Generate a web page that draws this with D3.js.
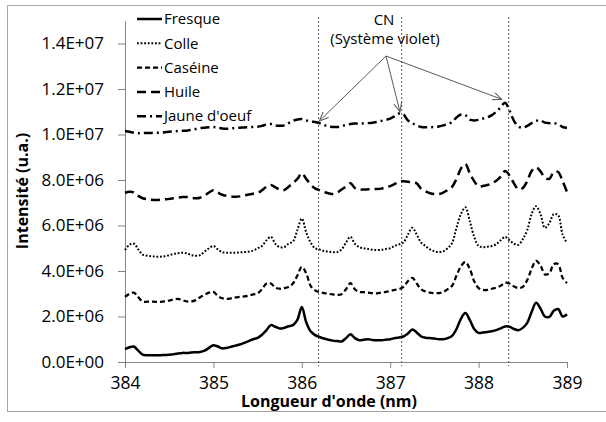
<!DOCTYPE html>
<html>
<head>
<meta charset="utf-8">
<script src="https://cdn.jsdelivr.net/npm/d3@7"></script>
<style>
  body { margin: 0; background: #fff; }
  text { font-family: "Open Sans", sans-serif; fill: #000; }
</style>
</head>
<body>
<div id="chart"></div>
<script>
// wavelength grid, nm (step 0.05)
const wavelengths = d3.range(101).map(i => +(384 + i * 0.05).toFixed(2));

// intensities, in 1e6 u.a.
const fresque = [0.57,0.65,0.68,0.5,0.32,0.3,0.3,0.3,0.3,0.31,
  0.32,0.34,0.37,0.4,0.4,0.42,0.43,0.44,0.5,0.62,
  0.74,0.68,0.6,0.62,0.67,0.72,0.77,0.84,0.92,1.0,
  1.06,1.2,1.4,1.62,1.55,1.47,1.5,1.57,1.62,1.85,
  2.42,1.75,1.35,1.18,1.1,1.03,0.98,0.94,0.92,0.9,
  1.05,1.22,1.05,0.96,0.98,1.0,0.97,0.96,0.96,0.98,
  1.0,1.05,1.08,1.12,1.25,1.43,1.3,1.12,1.07,1.05,
  1.03,1.0,1.0,1.05,1.15,1.45,1.9,2.15,1.85,1.45,
  1.28,1.3,1.32,1.35,1.4,1.48,1.56,1.55,1.45,1.4,
  1.5,1.72,2.2,2.6,2.35,2.0,1.98,2.25,2.33,2.0,
  2.1];
const colle = [4.92,5.15,5.2,4.95,4.72,4.67,4.65,4.63,4.63,4.65,
  4.7,4.75,4.78,4.8,4.78,4.7,4.67,4.7,4.85,5.0,
  5.1,4.95,4.83,4.8,4.8,4.8,4.82,4.83,4.85,4.9,
  5.0,5.1,5.35,5.5,5.2,5.05,5.05,5.2,5.3,5.8,
  6.3,5.7,5.25,5.0,4.95,4.88,4.85,4.83,4.83,4.95,
  5.25,5.5,5.2,5.05,5.0,4.97,4.93,4.92,4.93,4.97,
  5.0,5.1,5.17,5.25,5.6,5.9,5.6,5.25,5.1,4.95,
  4.87,4.83,4.87,5.0,5.23,5.9,6.5,6.8,6.2,5.5,
  5.1,5.05,5.07,5.1,5.18,5.35,5.5,5.35,5.2,5.15,
  5.4,5.8,6.5,6.85,6.5,5.9,6.1,6.5,6.45,5.6,
  5.23];
const caseine = [2.86,3.0,3.05,2.85,2.66,2.65,2.66,2.64,2.64,2.66,
  2.7,2.75,2.77,2.72,2.66,2.66,2.72,2.85,2.95,3.05,
  3.08,2.9,2.8,2.77,2.8,2.84,2.86,2.88,2.92,2.97,
  3.02,3.2,3.45,3.45,3.27,3.22,3.25,3.3,3.45,3.8,
  4.18,3.9,3.35,3.15,3.07,3.03,3.0,2.97,2.95,2.98,
  3.2,3.47,3.2,3.08,3.07,3.05,3.03,3.02,3.05,3.08,
  3.12,3.17,3.2,3.3,3.55,3.7,3.45,3.2,3.1,3.05,
  3.03,3.03,3.08,3.2,3.35,3.8,4.2,4.4,4.1,3.55,
  3.25,3.17,3.17,3.22,3.27,3.35,3.48,3.45,3.32,3.25,
  3.3,3.6,4.1,4.45,4.25,3.85,3.9,4.3,4.3,3.7,
  3.47];
const huile = [7.43,7.48,7.45,7.3,7.2,7.16,7.13,7.12,7.13,7.15,
  7.17,7.2,7.23,7.25,7.25,7.22,7.2,7.22,7.32,7.45,
  7.55,7.45,7.35,7.3,7.27,7.26,7.28,7.32,7.36,7.4,
  7.43,7.55,7.7,7.78,7.68,7.58,7.56,7.7,7.87,8.05,
  8.3,8.05,7.8,7.63,7.55,7.47,7.42,7.38,7.45,7.58,
  7.72,7.86,7.65,7.58,7.58,7.59,7.6,7.6,7.62,7.68,
  7.73,7.82,7.93,7.95,7.92,7.9,7.85,7.62,7.5,7.42,
  7.38,7.38,7.45,7.56,7.7,8.05,8.5,8.7,8.3,7.95,
  7.72,7.74,7.78,7.85,7.97,8.15,8.4,8.2,7.85,7.6,
  7.65,7.95,8.4,8.55,8.38,8.1,8.05,8.35,8.35,7.95,
  7.47];
const jaune = [10.15,10.12,10.08,10.06,10.06,10.07,10.07,10.08,10.08,10.1,
  10.12,10.14,10.15,10.16,10.17,10.2,10.24,10.28,10.3,10.32,
  10.33,10.3,10.26,10.25,10.27,10.29,10.3,10.31,10.32,10.33,
  10.34,10.38,10.44,10.46,10.4,10.38,10.4,10.5,10.6,10.66,
  10.68,10.62,10.57,10.55,10.5,10.42,10.35,10.33,10.33,10.37,
  10.42,10.46,10.48,10.48,10.49,10.5,10.52,10.55,10.6,10.64,
  10.7,10.8,10.92,10.88,10.62,10.5,10.4,10.33,10.32,10.32,
  10.33,10.35,10.4,10.46,10.55,10.75,10.88,10.85,10.65,10.62,
  10.65,10.7,10.75,10.85,11.0,11.2,11.4,11.05,10.6,10.35,
  10.3,10.38,10.5,10.6,10.62,10.52,10.5,10.5,10.45,10.33,
  10.3];

const seriesNames = ["Fresque", "Colle", "Caséine", "Huile", "Jaune d'oeuf"];
const seriesValues = [fresque, colle, caseine, huile, jaune];

const xTicks = [384, 385, 386, 387, 388, 389];
const yTicks = [0, 2e6, 4e6, 6e6, 8e6, 1e7, 1.2e7, 1.4e7];
const yTickLabels = ["0.0E+00", "2.0E+06", "4.0E+06", "6.0E+06", "8.0E+06", "1.0E+07", "1.2E+07", "1.4E+07"];

// CN (système violet) band heads and arrow tips
const cnLines = [386.19, 387.13, 388.34];
const cnArrowTips = [[386.2, 1.06e7], [387.11, 1.1e7], [388.26, 1.155e7]];

// line styles for each series
const styles = [
  { width: 2.5, dash: null },
  { width: 2, dash: "1.8,1.8" },
  { width: 2.25, dash: "5,3" },
  { width: 2.5, dash: "9,5" },
  { width: 2.5, dash: "9,4,2,4" }
];

const W = 606, H = 422;
const svg = d3.select("#chart").append("svg")
  .attr("width", W)
  .attr("height", H);

// outer chart border
svg.append("rect")
  .attr("x", 7.5).attr("y", 5.5)
  .attr("width", 610).attr("height", 406)
  .attr("fill", "none")
  .attr("stroke", "#a6a6a6");

const x = d3.scaleLinear().domain([384, 389]).range([125, 567]);
const y = d3.scaleLinear().domain([0, 1.5e7]).range([362, 20.75]);

// y axis
const yAxis = svg.append("g")
  .attr("transform", "translate(125,0)")
  .call(d3.axisLeft(y).tickValues(yTicks).tickSize(7).tickSizeOuter(0).tickPadding(14)
    .tickFormat((d, i) => yTickLabels[i]));
yAxis.selectAll("path, line").attr("stroke", "#868686");
yAxis.selectAll("text").style("font-size", "17px").attr("fill", "#000");

// x axis
const xAxis = svg.append("g")
  .attr("transform", "translate(0,362)")
  .call(d3.axisBottom(x).tickValues(xTicks).tickSize(6).tickSizeOuter(0).tickPadding(9)
    .tickFormat(d3.format("d")));
xAxis.selectAll("path, line").attr("stroke", "#868686");
xAxis.selectAll("text").style("font-size", "17.5px").attr("fill", "#000");

// axis titles
svg.append("text")
  .attr("transform", "translate(28,191) rotate(-90)")
  .attr("text-anchor", "middle")
  .style("font-size", "16px")
  .style("font-weight", "bold")
  .text("Intensité (u.a.)");

svg.append("text")
  .attr("x", 329).attr("y", 407)
  .attr("text-anchor", "middle")
  .style("font-size", "16px")
  .style("font-weight", "bold")
  .text("Longueur d'onde (nm)");

// CN vertical lines
svg.selectAll(".cn")
  .data(cnLines)
  .enter().append("line")
  .attr("class", "cn")
  .attr("x1", d => x(d)).attr("x2", d => x(d))
  .attr("y1", 17).attr("y2", 366)
  .attr("stroke", "#555")
  .attr("stroke-width", 1)
  .attr("stroke-dasharray", "2,2");

// series
const line = d3.line()
  .x((d, i) => x(wavelengths[i]))
  .y(d => y(d * 1e6))
  .curve(d3.curveCatmullRom.alpha(0.5));

seriesValues.forEach((vals, k) => {
  svg.append("path")
    .datum(vals)
    .attr("d", line)
    .attr("fill", "none")
    .attr("stroke", "#000")
    .attr("stroke-width", styles[k].width)
    .attr("stroke-dasharray", styles[k].dash)
    .attr("stroke-linejoin", "round");
});

// annotation
svg.append("text")
  .attr("x", 384).attr("y", 25)
  .attr("text-anchor", "middle")
  .style("font-size", "15px")
  .text("CN");
svg.append("text")
  .attr("x", 385).attr("y", 44)
  .attr("text-anchor", "middle")
  .style("font-size", "15px")
  .text("(Système violet)");

svg.append("defs").append("marker")
  .attr("id", "arrow")
  .attr("markerUnits", "userSpaceOnUse")
  .attr("markerWidth", 12).attr("markerHeight", 10)
  .attr("refX", 9).attr("refY", 4)
  .attr("orient", "auto")
  .append("path")
  .attr("d", "M0,0 L9,4 L0,8")
  .attr("fill", "none")
  .attr("stroke", "#595959")
  .attr("stroke-width", 1);

svg.selectAll(".arrow")
  .data(cnArrowTips)
  .enter().append("line")
  .attr("class", "arrow")
  .attr("x1", 386).attr("y1", 56)
  .attr("x2", d => x(d[0]))
  .attr("y2", d => y(d[1]))
  .attr("stroke", "#595959")
  .attr("stroke-width", 1)
  .attr("marker-end", "url(#arrow)");

// legend
const legend = svg.append("g");
seriesNames.forEach((name, k) => {
  const ly = 19 + k * 24.3;
  legend.append("line")
    .attr("x1", 137).attr("x2", 162)
    .attr("y1", ly).attr("y2", ly)
    .attr("stroke", "#000")
    .attr("stroke-width", styles[k].width)
    .attr("stroke-dasharray", styles[k].dash);
  legend.append("text")
    .attr("x", 164).attr("y", ly)
    .attr("dy", "0.35em")
    .style("font-size", "15px")
    .text(name);
});
</script>
</body>
</html>
